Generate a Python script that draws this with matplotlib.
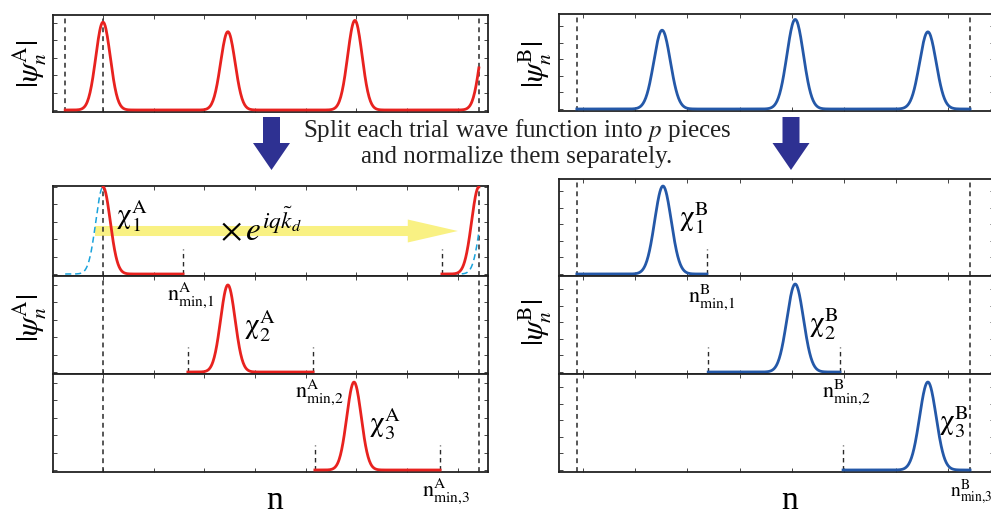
import numpy as np
import matplotlib
matplotlib.use("Agg")
import matplotlib.pyplot as plt
from matplotlib.patches import FancyArrow

plt.rcParams['mathtext.fontset'] = 'stix'
plt.rcParams['font.family'] = ['Liberation Serif', 'DejaVu Serif']

RED = '#e8221f'
BLUE = '#2458a8'
CYAN = '#1aa3dc'
DASHC = '#2a2a2a'
NAVY = '#2e3192'
YELLOW = '#f9f183'

# positions along n (0..100 across each panel)
# top row: full trial wave functions -> peak centers and heights
peaks_A = [11.5, 40.2, 69.4, 99.9]
heights_A = [1.01, 0.90, 1.03, 1.0]
span_A = (2.8, 97.9)
peaks_B = [23.7, 54.3, 84.8]
heights_B = [0.95, 1.08, 0.93]
span_B = (4.1, 94.5)
sigma_A = 1.66
sigma_B = 1.9

# dashed reference lines
dash_top_A = [2.8, 11.5, 97.9]
dash_A = [11.5, 97.9]
dash_B = [4.1, 94.5]

# pieces after splitting: (start, end, peak center, peak height)
pieces_A = [(11.5, 29.9, 11.5, 1.0), (31.0, 59.8, 40.2, 1.0), (60.2, 89.0, 69.2, 1.01)]
wrap_A = (89.4, 97.9, 97.9, 1.0)
ghost_A = [(2.8, 11.5, 11.5, 1.0), (89.4, 97.9, 99.9, 1.0)]
pieces_B = [(4.1, 34.0, 23.9, 1.06), (34.3, 64.6, 54.3, 1.06), (65.3, 94.5, 84.8, 1.06)]
cuts_A = [[29.9, 89.4], [31.0, 59.8], [60.2, 89.0]]
cuts_B = [[34.0], [34.3, 64.6], [65.3]]
cut_h = 0.29

W, H = 991, 517
fig = plt.figure(figsize=(W / 100, H / 100), dpi=100)


def gauss(x, c, h, s):
    return h * np.exp(-(x - c) ** 2 / (2 * s ** 2))


def add_panel(x0, y0, x1, y1, ylim, xt):
    ax = fig.add_axes([x0 / W, 1 - y1 / H, (x1 - x0) / W, (y1 - y0) / H])
    ax.set_xlim(0, 100)
    ax.set_ylim(*ylim)
    ax.set_xticks(xt)
    ax.set_yticks(np.linspace(0, 1, 6))
    ax.tick_params(direction='in', top=True, right=True, length=3, width=0.7,
                   color='#444444', labelbottom=False, labelleft=False)
    for s in ax.spines.values():
        s.set_linewidth(1.3)
        s.set_color('#222222')
    return ax


def vdash(ax, x, y0=None, y1=None):
    if y0 is None:
        ax.axvline(x, color=DASHC, lw=1.1, dashes=(3.2, 2.6), zorder=2)
    else:
        ax.plot([x, x], [y0, y1], color=DASHC, lw=1.0, dashes=(3.2, 2.6), zorder=2)


xt_A = np.linspace(11.5, 93, 8)
xt_B = np.linspace(5.5, 89.5, 8)

# ---- top row ----
ax = add_panel(53, 15, 488, 112, (-0.023, 1.092), xt_A)
x = np.linspace(*span_A, 600)
y = sum(gauss(x, c, h, sigma_A) for c, h in zip(peaks_A, heights_A))
ax.plot(x, y, color=RED, lw=2.0, zorder=3)
for d in dash_top_A:
    vdash(ax, d)

ax = add_panel(559, 14, 994, 111, (-0.024, 1.145), xt_B)
x = np.linspace(*span_B, 600)
y = sum(gauss(x, c, h, sigma_B) for c, h in zip(peaks_B, heights_B))
ax.plot(x, y, color=BLUE, lw=2.0, zorder=3)
for d in dash_B:
    vdash(ax, d)

# ---- bottom left: pieces of A ----
rows_A = [(186, 276, (-0.023, 1.011)), (276, 374, (-0.023, 1.103)), (374, 472, (-0.023, 1.103))]
for i, (y0, y1, yl) in enumerate(rows_A):
    ax = add_panel(53, y0, 488, y1, yl, xt_A)
    s, e, c, h = pieces_A[i]
    x = np.linspace(s, e, 300)
    ax.plot(x, gauss(x, c, h, sigma_A), color=RED, lw=2.0, zorder=4)
    for d in dash_A:
        vdash(ax, d)
    for d in cuts_A[i]:
        vdash(ax, d, 0, cut_h)
    if i == 0:
        ax.add_patch(FancyArrow(9.66, 0.494, 83.4, 0, width=0.115, head_width=0.264,
                                head_length=11.5, length_includes_head=True,
                                color=YELLOW, lw=0, zorder=1))
        for s, e, c, h in ghost_A:
            x = np.linspace(s, e, 200)
            ax.plot(x, gauss(x, c, h, sigma_A), color=CYAN, lw=1.1,
                    dashes=(4, 2.5), zorder=3)
        s, e, c, h = wrap_A
        x = np.linspace(s, e, 200)
        ax.plot(x, gauss(x, c, h, sigma_A), color=RED, lw=2.0, zorder=4)

# ---- bottom right: pieces of B ----
rows_B = [(179, 276, (-0.024, 1.145)), (276, 374, (-0.024, 1.157)), (374, 472, (-0.024, 1.157))]
for i, (y0, y1, yl) in enumerate(rows_B):
    ax = add_panel(559, y0, 994, y1, yl, xt_B)
    s, e, c, h = pieces_B[i]
    x = np.linspace(s, e, 300)
    ax.plot(x, gauss(x, c, h, sigma_B), color=BLUE, lw=2.0, zorder=4)
    for d in dash_B:
        vdash(ax, d)
    for d in cuts_B[i]:
        vdash(ax, d, 0, cut_h * 87 / 83)

# ---- overlay for labels and arrows (pixel coordinates) ----
ov = fig.add_axes([0, 0, 1, 1], zorder=10)
ov.set_xlim(0, W)
ov.set_ylim(H, 0)
ov.axis('off')
ov.patch.set_alpha(0)

for xc in (271.5, 791):
    ov.add_patch(FancyArrow(xc, 117, 0, 53, width=17, head_width=37, head_length=27,
                            length_includes_head=True, color=NAVY, lw=0))

ov.text(517, 130, 'Split each trial wave function into $p$ pieces',
        fontsize=18, ha='center', va='center', color='#222222')
ov.text(517, 157, 'and normalize them separately.',
        fontsize=18, ha='center', va='center', color='#222222')

ov.text(261, 228, r'$\times\, e^{iq\tilde{k}_d}$', fontsize=24, ha='center', va='center')

for xc, yc, lab in [(30, 64, 'A'), (30, 318, 'A'), (535, 64, 'B'), (535, 322, 'B')]:
    ov.text(xc, yc, r'$|\psi_n^{\mathrm{%s}}|$' % lab, rotation=90, fontsize=22,
            ha='center', va='center')

chi_pos = [(116, 198, 'A', 1), (244, 308, 'A', 2), (369, 406, 'A', 3),
           (679, 201, 'B', 1), (809, 306, 'B', 2), (939, 405, 'B', 3)]
for xc, yc, lab, k in chi_pos:
    ov.text(xc, yc, r'$\mathrm{χ}_{%d}^{\mathrm{%s}}$' % (k, lab), fontsize=21,
            ha='left', va='top')

nmin_pos = [(167, 280, 'A', 1, 16), (295, 377, 'A', 2, 16), (422, 476, 'A', 3, 16),
            (688, 282, 'B', 1, 16), (822, 377, 'B', 2, 16), (950, 477, 'B', 3, 14)]
for xc, yc, lab, k, fs in nmin_pos:
    ov.text(xc, yc, r'$\mathrm{n}_{\mathrm{min{,}%d}}^{\mathrm{%s}}$' % (k, lab),
            fontsize=fs, ha='left', va='top')

ov.text(275, 509, 'n', fontsize=24, ha='center', va='baseline')
ov.text(790, 509, 'n', fontsize=24, ha='center', va='baseline')

fig.savefig('out.png', dpi=100)
